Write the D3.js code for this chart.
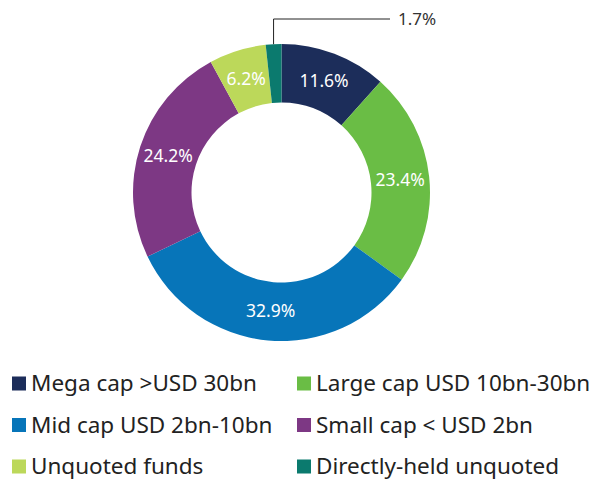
<!DOCTYPE html>
<html lang="en">
  <head>
    <meta charset="utf-8">
    <title>Portfolio by market cap</title>
    <style>
      body { margin: 0; background: #fff; }
      svg { display: block; font-family: "Noto Sans", "Open Sans", sans-serif; }
    </style>
  </head>
  <body>
    <div id="chart"></div>
    <script src="https://cdn.jsdelivr.net/npm/d3@7/dist/d3.min.js"></script>
    <script>
    (function(d3) {
      'use strict';

      var categories = ['Mega cap >USD 30bn', 'Large cap USD 10bn-30bn', 'Mid cap USD 2bn-10bn',
                        'Small cap < USD 2bn', 'Unquoted funds', 'Directly-held unquoted'];
      var values = [11.6, 23.4, 32.9, 24.2, 6.2, 1.7];
      var colors = ['#1c2d5a', '#6abd45', '#0775b9', '#7d3884', '#bcd85a', '#0b7a6e'];

      var width = 595, height = 481;
      var cx = 281.5, cy = 192.5;
      var outer = 148.5, inner = 90;

      var svg = d3.select('#chart').append('svg')
        .attr('width', width)
        .attr('height', height);

      var data = categories.map(function(c, i) { return { label: c, value: values[i], color: colors[i] }; });

      var pie = d3.pie().value(function(d) { return d.value; }).sort(null);
      var arc = d3.arc().innerRadius(inner).outerRadius(outer);
      var arcs = pie(data);

      var g = svg.append('g').attr('transform', 'translate(' + cx + ',' + cy + ')');

      g.selectAll('path')
        .data(arcs)
        .enter()
        .append('path')
        .attr('d', arc)
        .attr('fill', function(d) { return d.data.color; });

      // labels inside slices, except the tiny one which gets a leader line
      g.selectAll('text.inside')
        .data(arcs.filter(function(d) { return d.data.value >= 3; }))
        .enter()
        .append('text')
        .attr('class', 'inside')
        .attr('transform', function(d) { return 'translate(' + arc.centroid(d) + ')'; })
        .attr('text-anchor', 'middle')
        .attr('dy', '0.35em')
        .attr('fill', '#fff')
        .style('font-size', '17.5px')
        .text(function(d) { return d.data.value.toFixed(1) + '%'; });

      var small = arcs.filter(function(d) { return d.data.value < 3; });
      small.forEach(function(d) {
        var a = (d.startAngle + d.endAngle) / 2;
        var x0 = Math.sin(a) * outer, y0 = -Math.cos(a) * outer;
        var yTop = 19 - cy;
        g.append('path')
          .attr('d', 'M' + x0 + ',' + y0 + 'V' + yTop + 'H' + (390 - cx))
          .attr('fill', 'none')
          .attr('stroke', '#222')
          .attr('stroke-width', 1);
        g.append('text')
          .attr('x', 398 - cx)
          .attr('y', yTop)
          .attr('dy', '0.35em')
          .attr('fill', '#333')
          .style('font-size', '17px')
          .text(d.data.value.toFixed(1) + '%');
      });

      // legend, two columns
      var legend = svg.append('g');
      var item = legend.selectAll('g')
        .data(data)
        .enter()
        .append('g')
        .attr('transform', function(d, i) {
          return 'translate(' + (i % 2 ? 297 : 12) + ',' + (383.5 + Math.floor(i / 2) * 41.5) + ')';
        });
      item.append('rect')
        .attr('x', 0).attr('y', -7)
        .attr('width', 14).attr('height', 14)
        .attr('fill', function(d) { return d.color; });
      item.append('text')
        .attr('x', 19)
        .attr('dy', '0.35em')
        .attr('fill', '#222')
        .style('font-size', '22.5px')
        .text(function(d) { return d.label; });

    })(window.d3);
    </script>
  </body>
</html>
